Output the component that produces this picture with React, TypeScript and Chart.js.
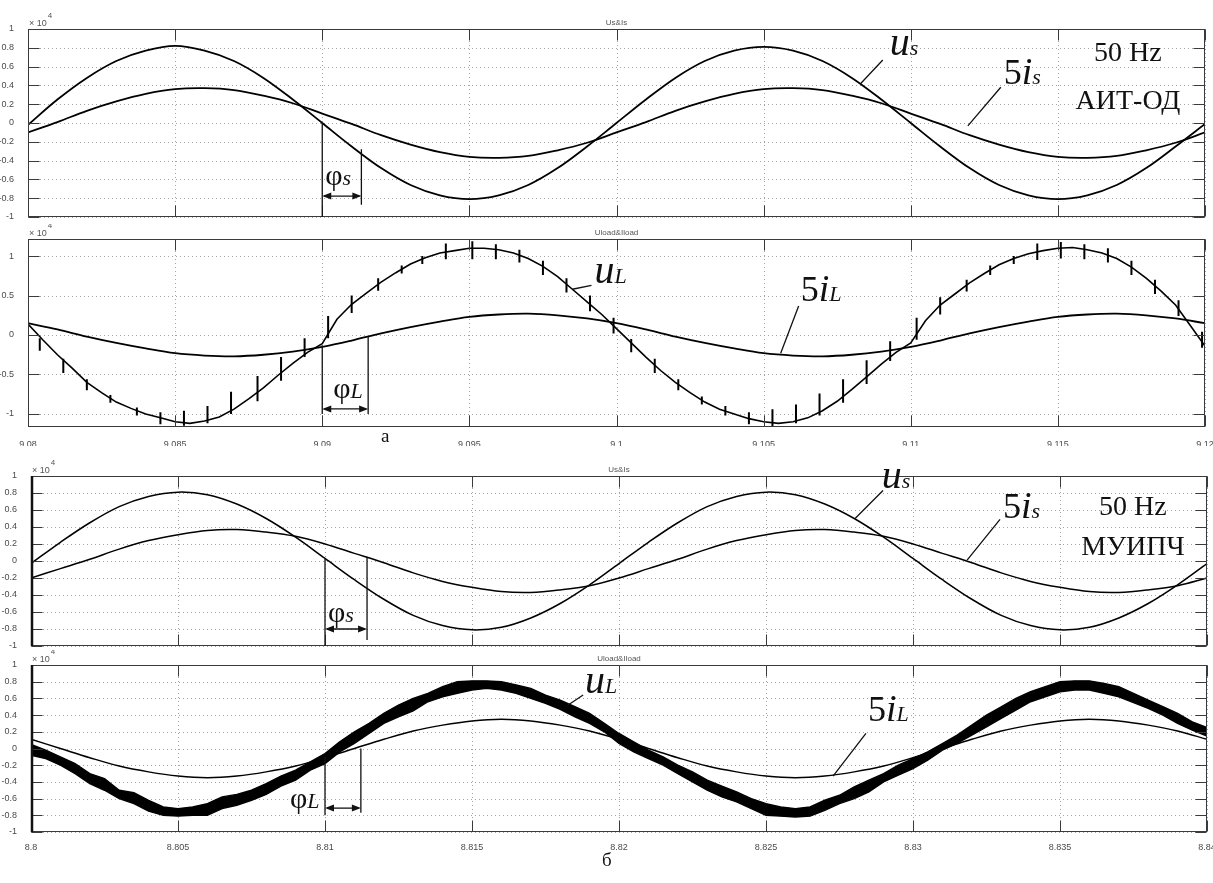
import React, { useEffect, useRef } from "react";
import { Chart, registerables } from "chart.js";

Chart.register(...registerables);
Chart.defaults.font.family = '"Liberation Sans", Arial, sans-serif';

const W = 1213;
const H = 883;
const SERIF = '"Liberation Serif", "Times New Roman", serif';

// ---- time bases (s) and sampling steps (ms) ----
const T0_A = 9.08;
const T0_B = 8.8;
const DT_COARSE = 1;
const DT_FINE = 0.5;

const X_TICKS_A = [9.08, 9.085, 9.09, 9.095, 9.1, 9.105, 9.11, 9.115, 9.12];
const X_TICKS_B = [8.8, 8.805, 8.81, 8.815, 8.82, 8.825, 8.83, 8.835, 8.84];
const Y_TICKS_FINE = [-1, -0.8, -0.6, -0.4, -0.2, 0, 0.2, 0.4, 0.6, 0.8, 1];
const Y_TICKS_HALF = [-1, -0.5, 0, 0.5, 1];

// ---- АИТ-ОД: supply voltage and 5x supply current (×10^4), 1 ms samples ----
const US_A = [
  -0.02, 0.25, 0.48, 0.66, 0.77, 0.82, 0.77, 0.66, 0.48, 0.25, 0.0,
  -0.25, -0.48, -0.66, -0.77, -0.81, -0.77, -0.66, -0.48, -0.25, 0.0,
  0.25, 0.48, 0.66, 0.77, 0.81, 0.77, 0.66, 0.48, 0.25, 0.0,
  -0.25, -0.48, -0.66, -0.77, -0.81, -0.77, -0.66, -0.48, -0.25, -0.01,
];
const IS5_A = [
  -0.1, 0.01, 0.13, 0.23, 0.31, 0.36, 0.37, 0.35, 0.29, 0.21, 0.1,
  -0.01, -0.13, -0.23, -0.31, -0.36, -0.37, -0.35, -0.29, -0.21, -0.1,
  0.01, 0.13, 0.23, 0.31, 0.36, 0.37, 0.35, 0.29, 0.21, 0.1,
  -0.01, -0.13, -0.23, -0.31, -0.36, -0.37, -0.35, -0.29, -0.21, -0.1,
];

// ---- АИТ-ОД: load voltage (0.5 ms samples) and 5x load current (1 ms) ----
const UL_A = [
  0.14, -0.06, -0.25, -0.42, -0.6, -0.73, -0.85, -0.93, -1.0, -1.05, -1.1,
  -1.12, -1.09, -1.04, -0.94, -0.81, -0.67, -0.51, -0.36, -0.22, -0.11,
  0.2, 0.39, 0.53, 0.67, 0.79, 0.9, 0.98, 1.04, 1.07, 1.1,
  1.1, 1.08, 1.04, 0.97, 0.87, 0.74, 0.58, 0.42, 0.26, 0.08,
  -0.1, -0.28, -0.45, -0.6, -0.73, -0.85, -0.94, -1.0, -1.06, -1.1,
  -1.12, -1.1, -1.05, -0.96, -0.84, -0.69, -0.53, -0.37, -0.22, -0.1,
  0.18, 0.38, 0.52, 0.66, 0.78, 0.89, 0.97, 1.03, 1.07, 1.1,
  1.11, 1.08, 1.04, 0.97, 0.86, 0.72, 0.56, 0.38, 0.12, -0.14,
];
const IL5_A = [
  0.15, 0.07, -0.02, -0.1, -0.17, -0.23, -0.26, -0.27, -0.25, -0.21, -0.15,
  -0.07, 0.02, 0.1, 0.17, 0.23, 0.26, 0.27, 0.25, 0.21, 0.15,
  0.07, -0.02, -0.1, -0.17, -0.23, -0.26, -0.27, -0.25, -0.21, -0.15,
  -0.07, 0.02, 0.1, 0.17, 0.23, 0.26, 0.27, 0.25, 0.21, 0.15,
];
// commutation spikes on the load voltage: offset (ms), lower and upper end
const SPIKE_MS_A = [
  0.4, 1.2, 2.0, 2.8, 3.7, 4.5, 5.3, 6.1, 6.9, 7.8, 8.6, 9.4, 10.2, 11.0, 11.9, 12.7, 13.4,
  14.2, 15.1, 15.9, 16.7, 17.5, 18.3, 19.1, 19.9,
  20.5, 21.3, 22.1, 22.9, 23.7, 24.5, 25.3, 26.1, 26.9, 27.7, 28.5, 29.3, 30.2, 31.0, 31.9,
  32.7, 33.5, 34.3, 35.1, 35.9, 36.7, 37.5, 38.3, 39.1, 39.9,
];
const SPIKE_LO_A = [
  -0.2, -0.48, -0.7, -0.86, -1.02, -1.13, -1.15, -1.12, -1.0, -0.84, -0.58, -0.28, -0.04, 0.28, 0.56, 0.78, 0.9,
  0.96, 0.96, 0.96, 0.92, 0.76, 0.54, 0.3, 0.02,
  -0.22, -0.48, -0.7, -0.88, -1.02, -1.13, -1.16, -1.12, -1.02, -0.86, -0.62, -0.33, -0.06, 0.26, 0.55,
  0.76, 0.9, 0.95, 0.97, 0.96, 0.92, 0.76, 0.52, 0.24, -0.16,
];
const SPIKE_HI_A = [
  -0.04, -0.3, -0.56, -0.76, -0.92, -0.98, -0.96, -0.9, -0.72, -0.52, -0.28, -0.04, 0.24, 0.5, 0.72, 0.88, 1.0,
  1.16, 1.19, 1.15, 1.08, 0.94, 0.72, 0.5, 0.22,
  -0.05, -0.3, -0.56, -0.78, -0.9, -0.98, -0.94, -0.88, -0.74, -0.56, -0.32, -0.08, 0.22, 0.48, 0.7,
  0.88, 1.0, 1.16, 1.18, 1.15, 1.1, 0.94, 0.7, 0.44, 0.04,
];

// ---- МУИПЧ: supply voltage and 5x supply current, 1 ms samples ----
const US_B = [
  -0.03, 0.22, 0.45, 0.64, 0.76, 0.81, 0.78, 0.67, 0.5, 0.28, 0.03,
  -0.22, -0.45, -0.64, -0.76, -0.81, -0.78, -0.67, -0.5, -0.28, -0.03,
  0.22, 0.45, 0.64, 0.76, 0.81, 0.78, 0.67, 0.5, 0.28, 0.03,
  -0.22, -0.45, -0.64, -0.76, -0.81, -0.78, -0.67, -0.5, -0.28, -0.03,
];
const IS5_B = [
  -0.2, -0.09, 0.02, 0.14, 0.24, 0.31, 0.36, 0.37, 0.34, 0.29, 0.2,
  0.09, -0.02, -0.14, -0.24, -0.31, -0.36, -0.37, -0.34, -0.29, -0.2,
  -0.09, 0.02, 0.14, 0.24, 0.31, 0.36, 0.37, 0.34, 0.29, 0.2,
  0.09, -0.02, -0.14, -0.24, -0.31, -0.36, -0.37, -0.34, -0.29, -0.2,
];

// ---- МУИПЧ: PWM load voltage envelope (0.5 ms) and 5x load current (1 ms) ----
const UL_B_HI = [
  0.05, -0.02, -0.1, -0.18, -0.3, -0.36, -0.5, -0.53, -0.62, -0.7, -0.72,
  -0.7, -0.66, -0.58, -0.55, -0.5, -0.42, -0.33, -0.26, -0.16, -0.06,
  0.08, 0.2, 0.3, 0.42, 0.52, 0.6, 0.66, 0.74, 0.8, 0.81,
  0.81, 0.8, 0.76, 0.72, 0.64, 0.58, 0.5, 0.42, 0.3, 0.18,
  0.08, -0.02, -0.1, -0.2, -0.28, -0.38, -0.45, -0.52, -0.6, -0.66,
  -0.7, -0.72, -0.7, -0.62, -0.56, -0.46, -0.38, -0.3, -0.2, -0.12,
  -0.04, 0.06, 0.16, 0.28, 0.4, 0.5, 0.6, 0.68, 0.74, 0.8,
  0.81, 0.81, 0.78, 0.74, 0.66, 0.58, 0.5, 0.42, 0.32, 0.25,
];
const UL_B_LO = [
  -0.08, -0.12, -0.2, -0.3, -0.42, -0.5, -0.6, -0.66, -0.75, -0.8, -0.81,
  -0.8, -0.8, -0.72, -0.68, -0.62, -0.55, -0.45, -0.38, -0.26, -0.18,
  -0.04, 0.06, 0.18, 0.3, 0.38, 0.45, 0.56, 0.62, 0.66, 0.7,
  0.72, 0.7, 0.66, 0.6, 0.54, 0.47, 0.38, 0.3, 0.2, 0.06,
  -0.04, -0.12, -0.2, -0.3, -0.4, -0.5, -0.58, -0.64, -0.72, -0.8,
  -0.81, -0.82, -0.81, -0.74, -0.66, -0.6, -0.52, -0.4, -0.32, -0.24,
  -0.14, -0.02, 0.06, 0.16, 0.26, 0.36, 0.46, 0.56, 0.62, 0.68,
  0.7, 0.7, 0.66, 0.62, 0.55, 0.48, 0.4, 0.3, 0.22, 0.15,
];
const IL5_B = [
  0.11, 0.0, -0.11, -0.21, -0.28, -0.33, -0.35, -0.33, -0.28, -0.21, -0.11,
  0.0, 0.11, 0.21, 0.28, 0.33, 0.35, 0.33, 0.28, 0.21, 0.11,
  0.0, -0.11, -0.21, -0.28, -0.33, -0.35, -0.33, -0.28, -0.21, -0.11,
  0.0, 0.11, 0.21, 0.28, 0.33, 0.35, 0.33, 0.28, 0.21, 0.11,
];

// ---- helpers ----
type Pt = [number, number];
type Part = [string, string];
interface Note { at: Pt; parts: Part[]; center?: boolean }
interface Decor {
  title: string;
  notes: Note[];
  leaders: [Pt, Pt][];
  markers: [Pt, Pt][];
  arrows: [Pt, Pt][];
  heavyLeft: boolean;
}
interface Panel {
  top: number;
  height: number;
  padTop: number;
  padRight: number;
  yWidth: number;
  xHeight: number;
  xLabelPad: number;
  showX: boolean;
  xMin: number;
  xMax: number;
  xTicks: number[];
  yMin: number;
  yMax: number;
  yTicks: number[];
  datasets: any[];
  decor: Decor;
}

const series = (t0: number, stepMs: number, values: number[]) =>
  values.map((v, i) => ({ x: t0 + (i * stepMs) / 1000, y: v }));

const spikes = (t0: number, ms: number[], lo: number[], hi: number[]) =>
  ms.flatMap((m, i) => {
    const t = t0 + m / 1000;
    return [
      { x: t, y: lo[i] },
      { x: t, y: hi[i] },
      { x: t, y: null as number | null },
    ];
  });

const trace = (data: any[], width: number, smooth: boolean) => ({
  data,
  borderColor: "#000",
  borderWidth: width,
  pointRadius: 0,
  tension: smooth ? 0.35 : 0,
  fill: false,
  spanGaps: false,
});

const U = `italic 40px ${SERIF}`;
const FIVE = `36px ${SERIF}`;
const I = `italic 38px ${SERIF}`;
const SUB = `italic 22px ${SERIF}`;
const PHI = `30px ${SERIF}`;
const HZ = `28px ${SERIF}`;
const CAP = `19px ${SERIF}`;

const PANELS: Panel[] = [
  {
    top: 0, height: 224, padTop: 29, padRight: 8, yWidth: 28, xHeight: 7, xLabelPad: 4, showX: false,
    xMin: 9.08, xMax: 9.12, xTicks: X_TICKS_A, yMin: -1, yMax: 1, yTicks: Y_TICKS_FINE,
    datasets: [
      trace(series(T0_A, DT_COARSE, US_A), 1.8, true),
      trace(series(T0_A, DT_COARSE, IS5_A), 1.8, true),
    ],
    decor: {
      title: "Us&Is",
      heavyLeft: false,
      notes: [
        { at: [9.10929, 0.72], parts: [["u", U], ["s", SUB]] },
        { at: [9.11316, 0.415], parts: [["5", FIVE], ["i", I], ["s", SUB]] },
        { at: [9.11738, 0.66], parts: [["50 Hz", HZ]], center: true },
        { at: [9.11738, 0.15], parts: [["АИТ-ОД", HZ]], center: true },
        { at: [9.0901, -0.66], parts: [["φ", PHI], ["s", SUB]] },
      ],
      leaders: [
        [[9.10905, 0.67], [9.1083, 0.42]],
        [[9.11306, 0.38], [9.11194, -0.03]],
      ],
      markers: [
        [[9.09, 0.0], [9.09, -1]],
        [[9.09133, -0.28], [9.09133, -0.87]],
      ],
      arrows: [[[9.09, -0.777], [9.09133, -0.777]]],
    },
  },
  {
    top: 224, height: 222, padTop: 15, padRight: 8, yWidth: 28, xHeight: 19, xLabelPad: 4, showX: true,
    xMin: 9.08, xMax: 9.12, xTicks: X_TICKS_A, yMin: -1.166, yMax: 1.217, yTicks: Y_TICKS_HALF,
    datasets: [
      trace(series(T0_A, DT_FINE, UL_A), 1.6, false),
      trace(spikes(T0_A, SPIKE_MS_A, SPIKE_LO_A, SPIKE_HI_A), 2, false),
      trace(series(T0_A, DT_COARSE, IL5_A), 1.8, true),
    ],
    decor: {
      title: "Uload&Iload",
      heavyLeft: false,
      notes: [
        { at: [9.09925, 0.66], parts: [["u", U], ["L", SUB]] },
        { at: [9.10626, 0.43], parts: [["5", FIVE], ["i", I], ["L", SUB]] },
        { at: [9.09037, -0.8], parts: [["φ", PHI], ["L", SUB]] },
        { at: [9.09214, -1.357], parts: [["а", CAP]], center: true },
      ],
      leaders: [
        [[9.09915, 0.63], [9.0985, 0.58]],
        [[9.10619, 0.367], [9.10558, -0.23]],
      ],
      markers: [
        [[9.09, -0.13], [9.09, -1.0]],
        [[9.09156, -0.02], [9.09156, -1.0]],
      ],
      arrows: [[[9.09, -0.937], [9.09156, -0.937]]],
    },
  },
  {
    top: 446, height: 204, padTop: 30, padRight: 6, yWidth: 31, xHeight: 4, xLabelPad: 2, showX: false,
    xMin: 8.8, xMax: 8.84, xTicks: X_TICKS_B, yMin: -1, yMax: 1, yTicks: Y_TICKS_FINE,
    datasets: [
      trace(series(T0_B, DT_COARSE, US_B), 1.5, true),
      trace(series(T0_B, DT_COARSE, IS5_B), 1.5, true),
    ],
    decor: {
      title: "Us&Is",
      heavyLeft: true,
      notes: [
        { at: [8.82894, 0.86], parts: [["u", U], ["s", SUB]] },
        { at: [8.83306, 0.506], parts: [["5", FIVE], ["i", I], ["s", SUB]] },
        { at: [8.83748, 0.54], parts: [["50 Hz", HZ]], center: true },
        { at: [8.83748, 0.07], parts: [["МУИПЧ", HZ]], center: true },
        { at: [8.8101, -0.72], parts: [["φ", PHI], ["s", SUB]] },
      ],
      leaders: [
        [[8.82898, 0.83], [8.82803, 0.5]],
        [[8.83296, 0.49], [8.83184, 0.01]],
      ],
      markers: [
        [[8.81, 0.03], [8.81, -1]],
        [[8.81143, 0.05], [8.81143, -0.93]],
      ],
      arrows: [[[8.81, -0.8], [8.81143, -0.8]]],
    },
  },
  {
    top: 650, height: 233, padTop: 15, padRight: 6, yWidth: 31, xHeight: 51, xLabelPad: 2, showX: true,
    xMin: 8.8, xMax: 8.84, xTicks: X_TICKS_B, yMin: -1, yMax: 1, yTicks: Y_TICKS_FINE,
    datasets: [
      trace(series(T0_B, DT_FINE, UL_B_HI), 1.4, false),
      {
        ...trace(series(T0_B, DT_FINE, UL_B_LO), 1.4, false),
        fill: "-1",
        backgroundColor: "#000",
      },
      trace(series(T0_B, DT_COARSE, IL5_B), 1.5, true),
    ],
    decor: {
      title: "Uload&Iload",
      heavyLeft: true,
      notes: [
        { at: [8.81884, 0.67], parts: [["u", U], ["L", SUB]] },
        { at: [8.82847, 0.333], parts: [["5", FIVE], ["i", I], ["L", SUB]] },
        { at: [8.80881, -0.714], parts: [["φ", PHI], ["L", SUB]] },
        { at: [8.81959, -1.407], parts: [["б", CAP]], center: true },
      ],
      leaders: [
        [[8.81878, 0.64], [8.81827, 0.52]],
        [[8.8284, 0.18], [8.82728, -0.33]],
      ],
      markers: [
        [[8.81, -0.1], [8.81, -0.8]],
        [[8.81122, 0.0], [8.81122, -0.77]],
      ],
      arrows: [[[8.81, -0.714], [8.81122, -0.714]]],
    },
  },
];

const fmt = (v: number) => String(parseFloat(Number(v).toFixed(4)));

// Dotted grid, MATLAB-style axes box with inward ticks, titles and the drawn notes.
function decorPlugin(d: Decor) {
  return {
    id: "panelDecor",
    beforeDatasetsDraw(chart: any) {
      const { ctx, chartArea: a } = chart;
      const xs = chart.scales.x;
      const ys = chart.scales.y;
      ctx.save();
      ctx.strokeStyle = "#a4a4a4";
      ctx.lineWidth = 1;
      ctx.setLineDash([1, 3]);
      ctx.beginPath();
      for (const t of xs.ticks) {
        const p = Math.round(xs.getPixelForValue(t.value)) + 0.5;
        ctx.moveTo(p, a.top);
        ctx.lineTo(p, a.bottom);
      }
      for (const t of ys.ticks) {
        const p = Math.round(ys.getPixelForValue(t.value)) + 0.5;
        ctx.moveTo(a.left, p);
        ctx.lineTo(a.right, p);
      }
      ctx.stroke();
      ctx.restore();
    },
    afterDatasetsDraw(chart: any) {
      const { ctx, chartArea: a } = chart;
      const xs = chart.scales.x;
      const ys = chart.scales.y;
      const P = (p: Pt): Pt => [xs.getPixelForValue(p[0]), ys.getPixelForValue(p[1])];
      ctx.save();

      const L = Math.round(a.left) + 0.5;
      const R = Math.round(a.right) - 0.5;
      const T = Math.round(a.top) + 0.5;
      const B = Math.round(a.bottom) - 0.5;
      ctx.strokeStyle = "#3a3a3a";
      ctx.lineWidth = 1;
      ctx.strokeRect(L, T, R - L, B - T);
      const tl = 11;
      ctx.beginPath();
      for (const t of xs.ticks) {
        const p = Math.round(xs.getPixelForValue(t.value)) + 0.5;
        ctx.moveTo(p, B);
        ctx.lineTo(p, B - tl);
        ctx.moveTo(p, T);
        ctx.lineTo(p, T + tl);
      }
      for (const t of ys.ticks) {
        const p = Math.round(ys.getPixelForValue(t.value)) + 0.5;
        ctx.moveTo(L, p);
        ctx.lineTo(L + tl, p);
        ctx.moveTo(R, p);
        ctx.lineTo(R - tl, p);
      }
      ctx.stroke();
      if (d.heavyLeft) {
        ctx.lineWidth = 2.5;
        ctx.strokeStyle = "#111";
        ctx.beginPath();
        ctx.moveTo(a.left + 1, a.top);
        ctx.lineTo(a.left + 1, a.bottom);
        ctx.stroke();
      }

      // title and exponent
      ctx.fillStyle = "#555";
      ctx.textBaseline = "alphabetic";
      ctx.font = '8px "Liberation Sans", Arial, sans-serif';
      ctx.textAlign = "center";
      ctx.fillText(d.title, (a.left + a.right) / 2, a.top - 4);
      ctx.textAlign = "left";
      ctx.font = '9px "Liberation Sans", Arial, sans-serif';
      const base = "× 10";
      ctx.fillText(base, a.left + 1, a.top - 3);
      const bw = ctx.measureText(base).width;
      ctx.font = '8px "Liberation Sans", Arial, sans-serif';
      ctx.fillText("4", a.left + 2 + bw, a.top - 11);

      // phase markers, arrows and leader lines
      ctx.strokeStyle = "#111";
      ctx.fillStyle = "#111";
      ctx.lineWidth = 1.3;
      ctx.beginPath();
      for (const [p1, p2] of [...d.markers, ...d.leaders]) {
        const [x1, y1] = P(p1);
        const [x2, y2] = P(p2);
        ctx.moveTo(x1, y1);
        ctx.lineTo(x2, y2);
      }
      ctx.stroke();
      for (const [p1, p2] of d.arrows) {
        const [x1, y1] = P(p1);
        const [x2, y2] = P(p2);
        ctx.beginPath();
        ctx.moveTo(x1 + 2, y1);
        ctx.lineTo(x2 - 2, y2);
        ctx.stroke();
        for (const [hx, hy, dir] of [[x1, y1, -1], [x2, y2, 1]] as number[][]) {
          ctx.beginPath();
          ctx.moveTo(hx, hy);
          ctx.lineTo(hx - dir * 9, hy - 3.5);
          ctx.lineTo(hx - dir * 9, hy + 3.5);
          ctx.closePath();
          ctx.fill();
        }
      }

      // text notes (parts share a baseline)
      ctx.fillStyle = "#111";
      ctx.textAlign = "left";
      for (const n of d.notes) {
        let [x, y] = P(n.at);
        if (n.center) {
          let w = 0;
          for (const [s, f] of n.parts) {
            ctx.font = f;
            w += ctx.measureText(s).width;
          }
          x -= w / 2;
        }
        for (const [s, f] of n.parts) {
          ctx.font = f;
          ctx.fillText(s, x, y);
          x += ctx.measureText(s).width;
        }
      }
      ctx.restore();
    },
  };
}

function buildChart(canvas: HTMLCanvasElement, p: Panel) {
  const tickFont = { size: 9, family: '"Liberation Sans", Arial, sans-serif' };
  return new Chart(canvas, {
    type: "line",
    data: { datasets: p.datasets },
    options: {
      animation: false,
      responsive: false,
      devicePixelRatio: 1,
      layout: { padding: { top: p.padTop, right: p.padRight, left: 0, bottom: 0 } },
      plugins: { legend: { display: false }, tooltip: { enabled: false }, title: { display: false } },
      elements: { point: { radius: 0 } },
      scales: {
        x: {
          type: "linear",
          min: p.xMin,
          max: p.xMax,
          grid: { display: false },
          border: { display: false },
          ticks: {
            display: p.showX,
            autoSkip: false,
            maxRotation: 0,
            padding: p.xLabelPad,
            font: tickFont,
            color: "#4a4a4a",
            callback: (v: any) => fmt(v),
          },
          afterBuildTicks: (s: any) => {
            s.ticks = p.xTicks.map((v) => ({ value: v }));
          },
          afterFit: (s: any) => {
            s.height = p.xHeight;
            s.paddingLeft = 0;
            s.paddingRight = 0;
          },
        },
        y: {
          type: "linear",
          min: p.yMin,
          max: p.yMax,
          grid: { display: false },
          border: { display: false },
          ticks: {
            autoSkip: false,
            padding: 6,
            font: tickFont,
            color: "#4a4a4a",
            callback: (v: any) => fmt(v),
          },
          afterBuildTicks: (s: any) => {
            s.ticks = p.yTicks.map((v) => ({ value: v }));
          },
          afterFit: (s: any) => {
            s.width = p.yWidth;
            s.paddingTop = 0;
            s.paddingBottom = 0;
          },
        },
      },
    } as any,
    plugins: [decorPlugin(p.decor)],
  });
}

export default function App() {
  const refs = useRef<(HTMLCanvasElement | null)[]>([]);
  useEffect(() => {
    const charts = PANELS.map((p, i) => buildChart(refs.current[i] as HTMLCanvasElement, p));
    return () => charts.forEach((c) => c.destroy());
  }, []);
  return (
    <div
      style={{
        position: "absolute",
        left: 0,
        top: 0,
        width: W,
        height: H,
        background: "#fff",
        overflow: "hidden",
      }}
    >
      {PANELS.map((p, i) => (
        <canvas
          key={i}
          ref={(el) => {
            refs.current[i] = el;
          }}
          width={W}
          height={p.height}
          style={{ position: "absolute", left: 0, top: p.top, width: W, height: p.height, display: "block" }}
        />
      ))}
    </div>
  );
}
